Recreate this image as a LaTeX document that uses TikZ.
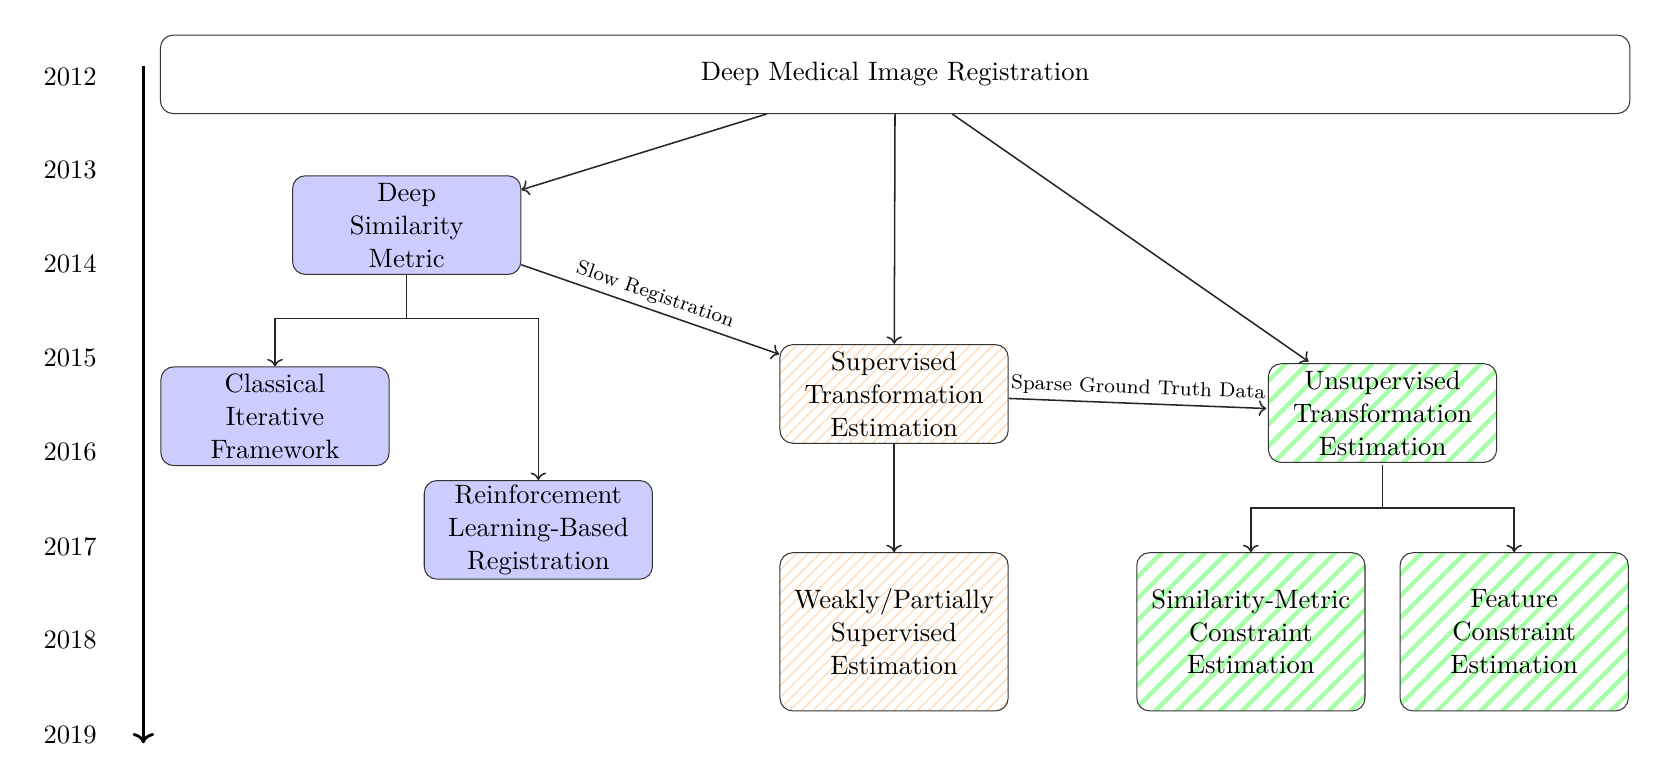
\documentclass[tikz,border=0pt]{standalone}
\usetikzlibrary{patterns.meta,arrows.meta}
\begin{document}
\begin{tikzpicture}[x=0.4155pt,y=-0.4155pt,
  base/.style={font=\fontsize{10.4pt}{12.9pt}\selectfont},
  box/.style={base,draw=black!80,rounded corners=5pt,align=center,minimum width=89.3pt,minimum height=38.6pt,inner sep=1pt},
  tall/.style={box,minimum height=61.9pt},
  bluebox/.style={box,fill=blue!20},
  orangebox/.style={pattern={Lines[angle=45,distance=3.2pt,line width=0.6pt]},pattern color=orange!25},
  greenbox/.style={pattern={Lines[angle=45,distance=6pt,line width=1.7pt]},pattern color=green!35},
  conn/.style={->,draw=black!85,semithick},
  link/.style={draw=black!85,semithick},
  lbl/.style={font=\fontsize{7.9pt}{9.5pt}\selectfont,sloped,above,midway,inner sep=2pt},
  year/.style={base,anchor=center}]
\useasboundingbox (0,0) rectangle (1568,716);
% timeline
\coordinate (t0) at (135,62);
\coordinate (t1) at (135,700);
\draw[->,line width=1.1pt] (t0) -- (t1);
\node[year] (y12) at (66,72) {2012};
\node[year] (y13) at (66,160) {2013};
\node[year] (y14) at (66,248) {2014};
\node[year] (y15) at (66,337) {2015};
\node[year] (y16) at (66,426) {2016};
\node[year] (y17) at (66,515) {2017};
\node[year] (y18) at (66,603) {2018};
\node[year] (y19) at (66,692) {2019};
% nodes
\node[box,minimum width=575pt,minimum height=30.7pt] (top) at (843,70) {Deep Medical Image Registration};
\node[bluebox] (dsm) at (383,212) {Deep\\Similarity\\Metric};
\node[bluebox] (cif) at (259,392) {Classical\\Iterative\\Framework};
\node[bluebox] (rl) at (507,499) {Reinforcement\\Learning-Based\\Registration};
\node[box,orangebox] (sup) at (842,371) {Supervised\\Transformation\\Estimation};
\node[box,greenbox] (uns) at (1302,389) {Unsupervised\\Transformation\\Estimation};
\node[tall,orangebox] (weak) at (842,595) {Weakly/Partially\\Supervised\\Estimation};
\node[tall,greenbox] (smc) at (1178,595) {Similarity-Metric\\Constraint\\Estimation};
\node[tall,greenbox] (fce) at (1426,595) {Feature\\Constraint\\Estimation};
% junctions
\coordinate (dj) at ([yshift=-17pt]dsm.south);
\coordinate (uj) at ([yshift=-17pt]uns.south);
% connectors
\draw[conn] (top) -- (dsm);
\draw[conn] (top) -- (sup);
\draw[conn] (top) -- (uns);
\draw[conn] (dsm) -- node[lbl] {Slow Registration} (sup);
\draw[conn] (sup) -- node[lbl] {Sparse Ground Truth Data} (uns);
\draw[conn] (sup) -- (weak);
\draw[link] (dsm.south) -- (dj);
\draw[conn] (dj) -| (cif.north);
\draw[conn] (dj) -| (rl.north);
\draw[link] (uns.south) -- (uj);
\draw[conn] (uj) -| (smc.north);
\draw[conn] (uj) -| (fce.north);
\end{tikzpicture}
\end{document}
